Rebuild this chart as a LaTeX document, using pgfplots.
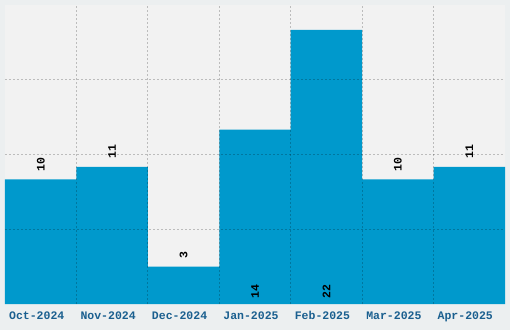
\documentclass[border=0pt]{standalone}
\usepackage{fontspec}
\setmonofont{Liberation Mono}
\usepackage{pgfplots}
\pgfplotsset{compat=1.18}
\definecolor{outerbg}{HTML}{ECEFF0}
\definecolor{plotbg}{HTML}{F2F2F2}
\definecolor{barcol}{HTML}{0099CC}
\definecolor{tickcol}{HTML}{1A5F8F}
\begin{document}
\begin{tikzpicture}[x=1pt,y=1pt]
\useasboundingbox (0,0) rectangle (510,330);
\fill[outerbg] (0,0) rectangle (510,330);
\begin{axis}[
  at={(5pt,26pt)}, anchor=south west,
  scale only axis, width=500pt, height=299pt,
  xmin=-0.5, xmax=6.5, ymin=0, ymax=24,
  axis background/.style={fill=plotbg},
  axis line style={draw=none},
  axis on top,
  xtick={0,...,6},
  xticklabels={Oct-2024,Nov-2024,Dec-2024,Jan-2025,Feb-2025,Mar-2025,Apr-2025},
  minor xtick={0.5,1.5,2.5,3.5,4.5,5.5},
  ytick={6,12,18},
  yticklabels={},
  major tick length=0pt, minor tick length=0pt,
  xmajorgrids=false, xminorgrids=true, ymajorgrids=true,
  grid style={black, opacity=0.22, line width=1pt, dash pattern=on 2pt off 2pt},
  minor grid style={black, opacity=0.22, line width=1pt, dash pattern=on 2pt off 2pt},
  xticklabel style={font=\fontsize{11.5}{12}\selectfont\ttfamily\bfseries, text=tickcol, yshift=-4pt, xshift=-4pt},
]
\addplot[ybar, bar width=1, fill=barcol, draw=none] coordinates {
  (0,10) (1,11) (2,3) (3,14) (4,22) (5,10) (6,11)
};
% labels above short bars
\addplot[draw=none, mark=none, nodes near coords, point meta=explicit symbolic,
  nodes near coords style={rotate=90, anchor=west, inner xsep=8pt, inner ysep=0pt,
    font=\fontsize{11.5}{12}\selectfont\ttfamily\bfseries, text=black}]
  coordinates {(0,10)[10] (1,11)[11] (2,3)[3] (5,10)[10] (6,11)[11]};
% labels inside tall bars
\addplot[draw=none, mark=none, nodes near coords, point meta=explicit symbolic,
  nodes near coords style={rotate=90, anchor=west, inner xsep=5pt, inner ysep=0pt,
    font=\fontsize{11.5}{12}\selectfont\ttfamily\bfseries, text=black}]
  coordinates {(3,0)[14] (4,0)[22]};
\end{axis}
\end{tikzpicture}
\end{document}
